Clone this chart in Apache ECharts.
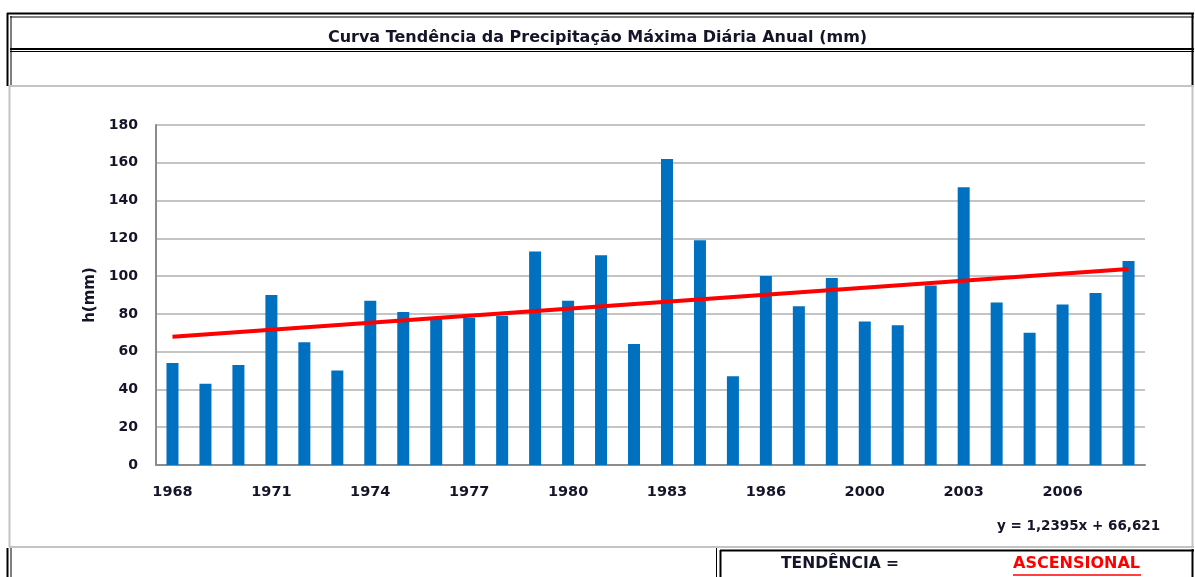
<!DOCTYPE html>
<html>
<head>
<meta charset="utf-8">
<script src="https://cdn.jsdelivr.net/npm/echarts@6/dist/echarts.min.js"></script>
<style>
  html, body { margin: 0; padding: 0; background: #fff; }
  #main { width: 1195px; height: 577px; }
</style>
</head>
<body>
<div id="main"></div>
<script>
// anos (eixo x) - a serie salta de 1988 para 2000
const years = ['1968', '1969', '1970', '1971', '1972', '1973', '1974', '1975', '1976', '1977',
  '1978', '1979', '1980', '1981', '1982', '1983', '1984', '1985', '1986', '1987',
  '1988', '2000', '2001', '2002', '2003', '2004', '2005', '2006', '2007', '2008']
// precipitacao maxima diaria anual (mm)
const rainMax = [54, 43, 53, 90, 65, 50, 87, 81, 78, 78,
  79, 113, 87, 111, 64, 162, 119, 47, 100, 84,
  99, 76, 74, 95, 147, 86, 70, 85, 91, 108]
// linha de tendencia: y = 1,2395x + 66,621 (extremos)
const trendPoints = [['1968', 67.9], ['2008', 103.8]]
const yTicks = [0, 180, 20]   // min, max, intervalo

const FONT = '"DejaVu Sans"'
const TXT = '#15152a'

const chart = echarts.init(document.getElementById('main'))

// moldura da tabela (linhas pretas duplas / cinzentas)
let frame = [
  // topo duplo
  { type: 'line', shape: { x1: 7, y1: 13.5, x2: 1194, y2: 13.5 }, style: { stroke: '#000', lineWidth: 2 } },
  { type: 'line', shape: { x1: 10, y1: 17, x2: 1194, y2: 17 }, style: { stroke: '#000', lineWidth: 1 } },
  // fundo da linha do titulo
  { type: 'line', shape: { x1: 10, y1: 49, x2: 1194, y2: 49 }, style: { stroke: '#000', lineWidth: 2 } },
  { type: 'line', shape: { x1: 10, y1: 51.5, x2: 1194, y2: 51.5 }, style: { stroke: '#000', lineWidth: 1 } },
  // esquerda dupla (linhas 1-2)
  { type: 'line', shape: { x1: 7.5, y1: 13, x2: 7.5, y2: 86 }, style: { stroke: '#000', lineWidth: 2 } },
  { type: 'line', shape: { x1: 11, y1: 16, x2: 11, y2: 86 }, style: { stroke: '#000', lineWidth: 1 } },
  // direita
  { type: 'line', shape: { x1: 1192.5, y1: 13, x2: 1192.5, y2: 86 }, style: { stroke: '#000', lineWidth: 2 } },
  // area do grafico (cinza)
  { type: 'line', shape: { x1: 9, y1: 86, x2: 1194, y2: 86 }, style: { stroke: '#c4c4c4', lineWidth: 2 } },
  { type: 'line', shape: { x1: 9.5, y1: 86, x2: 9.5, y2: 547 }, style: { stroke: '#c4c4c4', lineWidth: 2 } },
  { type: 'line', shape: { x1: 1192.5, y1: 86, x2: 1192.5, y2: 547 }, style: { stroke: '#c4c4c4', lineWidth: 2 } },
  { type: 'line', shape: { x1: 9, y1: 547, x2: 1194, y2: 547 }, style: { stroke: '#c4c4c4', lineWidth: 2 } },
  // linha de baixo: caixa esquerda
  { type: 'line', shape: { x1: 7.5, y1: 548, x2: 7.5, y2: 577 }, style: { stroke: '#000', lineWidth: 2 } },
  { type: 'line', shape: { x1: 11, y1: 548, x2: 11, y2: 577 }, style: { stroke: '#000', lineWidth: 1 } },
  // caixa direita (tendencia)
  { type: 'line', shape: { x1: 716.5, y1: 548, x2: 716.5, y2: 577 }, style: { stroke: '#000', lineWidth: 1 } },
  { type: 'line', shape: { x1: 720.5, y1: 550, x2: 720.5, y2: 577 }, style: { stroke: '#000', lineWidth: 2 } },
  { type: 'line', shape: { x1: 720, y1: 550.5, x2: 1194, y2: 550.5 }, style: { stroke: '#000', lineWidth: 2 } },
  { type: 'line', shape: { x1: 1192.5, y1: 549, x2: 1192.5, y2: 577 }, style: { stroke: '#000', lineWidth: 2 } },
  // textos
  { type: 'text', left: 997, top: 519,
    style: { text: 'y = 1,2395x + 66,621', fill: TXT, font: 'bold 13.5px ' + FONT } },
  { type: 'text', left: 781, top: 556,
    style: { text: 'TENDÊNCIA =', fill: TXT, font: 'bold 15.5px ' + FONT } },
  { type: 'text', left: 1013, top: 556,
    style: { text: 'ASCENSIONAL', fill: '#ff0000', font: 'bold 16px ' + FONT } },
  { type: 'line', shape: { x1: 1013, y1: 575, x2: 1141, y2: 575 }, style: { stroke: '#ff0000', lineWidth: 1.5 } }
]

let option = {
  backgroundColor: '#fff',
  animation: false,
  title: {
    text: 'Curva Tendência da Precipitação Máxima Diária Anual (mm)',
    left: 'center',
    top: 25,
    textStyle: { color: TXT, fontFamily: FONT, fontWeight: 'bold', fontSize: 16 }
  },
  graphic: frame,
  grid: { left: 156, right: 50, top: 125, bottom: 112 },
  xAxis: {
    type: 'category',
    data: years,
    axisLine: { lineStyle: { color: '#8c8c8c', width: 2 } },
    axisTick: { show: false },
    axisLabel: {
      interval: 2,
      color: TXT,
      fontFamily: FONT,
      fontWeight: 'bold',
      fontSize: 14.5,
      margin: 20
    }
  },
  yAxis: {
    type: 'value',
    min: yTicks[0],
    max: yTicks[1],
    interval: yTicks[2],
    name: 'h(mm)',
    nameLocation: 'middle',
    nameGap: 58,
    nameTextStyle: { color: TXT, fontFamily: FONT, fontWeight: 'bold', fontSize: 15 },
    axisLine: { show: true, lineStyle: { color: '#8c8c8c', width: 2 } },
    axisTick: { show: false },
    axisLabel: { color: TXT, fontFamily: FONT, fontWeight: 'bold', fontSize: 14, margin: 18 },
    splitLine: { lineStyle: { color: '#c4c4c4', width: 2 } }
  },
  series: [
    {
      name: 'Precipitação',
      type: 'bar',
      data: rainMax,
      barWidth: 12,
      itemStyle: { color: '#0070c0' }
    },
    {
      name: 'Tendência',
      type: 'line',
      data: trendPoints,
      symbol: 'none',
      lineStyle: { color: '#ff0000', width: 4 },
      z: 5
    }
  ]
}
chart.setOption(option)
</script>
</body>
</html>
